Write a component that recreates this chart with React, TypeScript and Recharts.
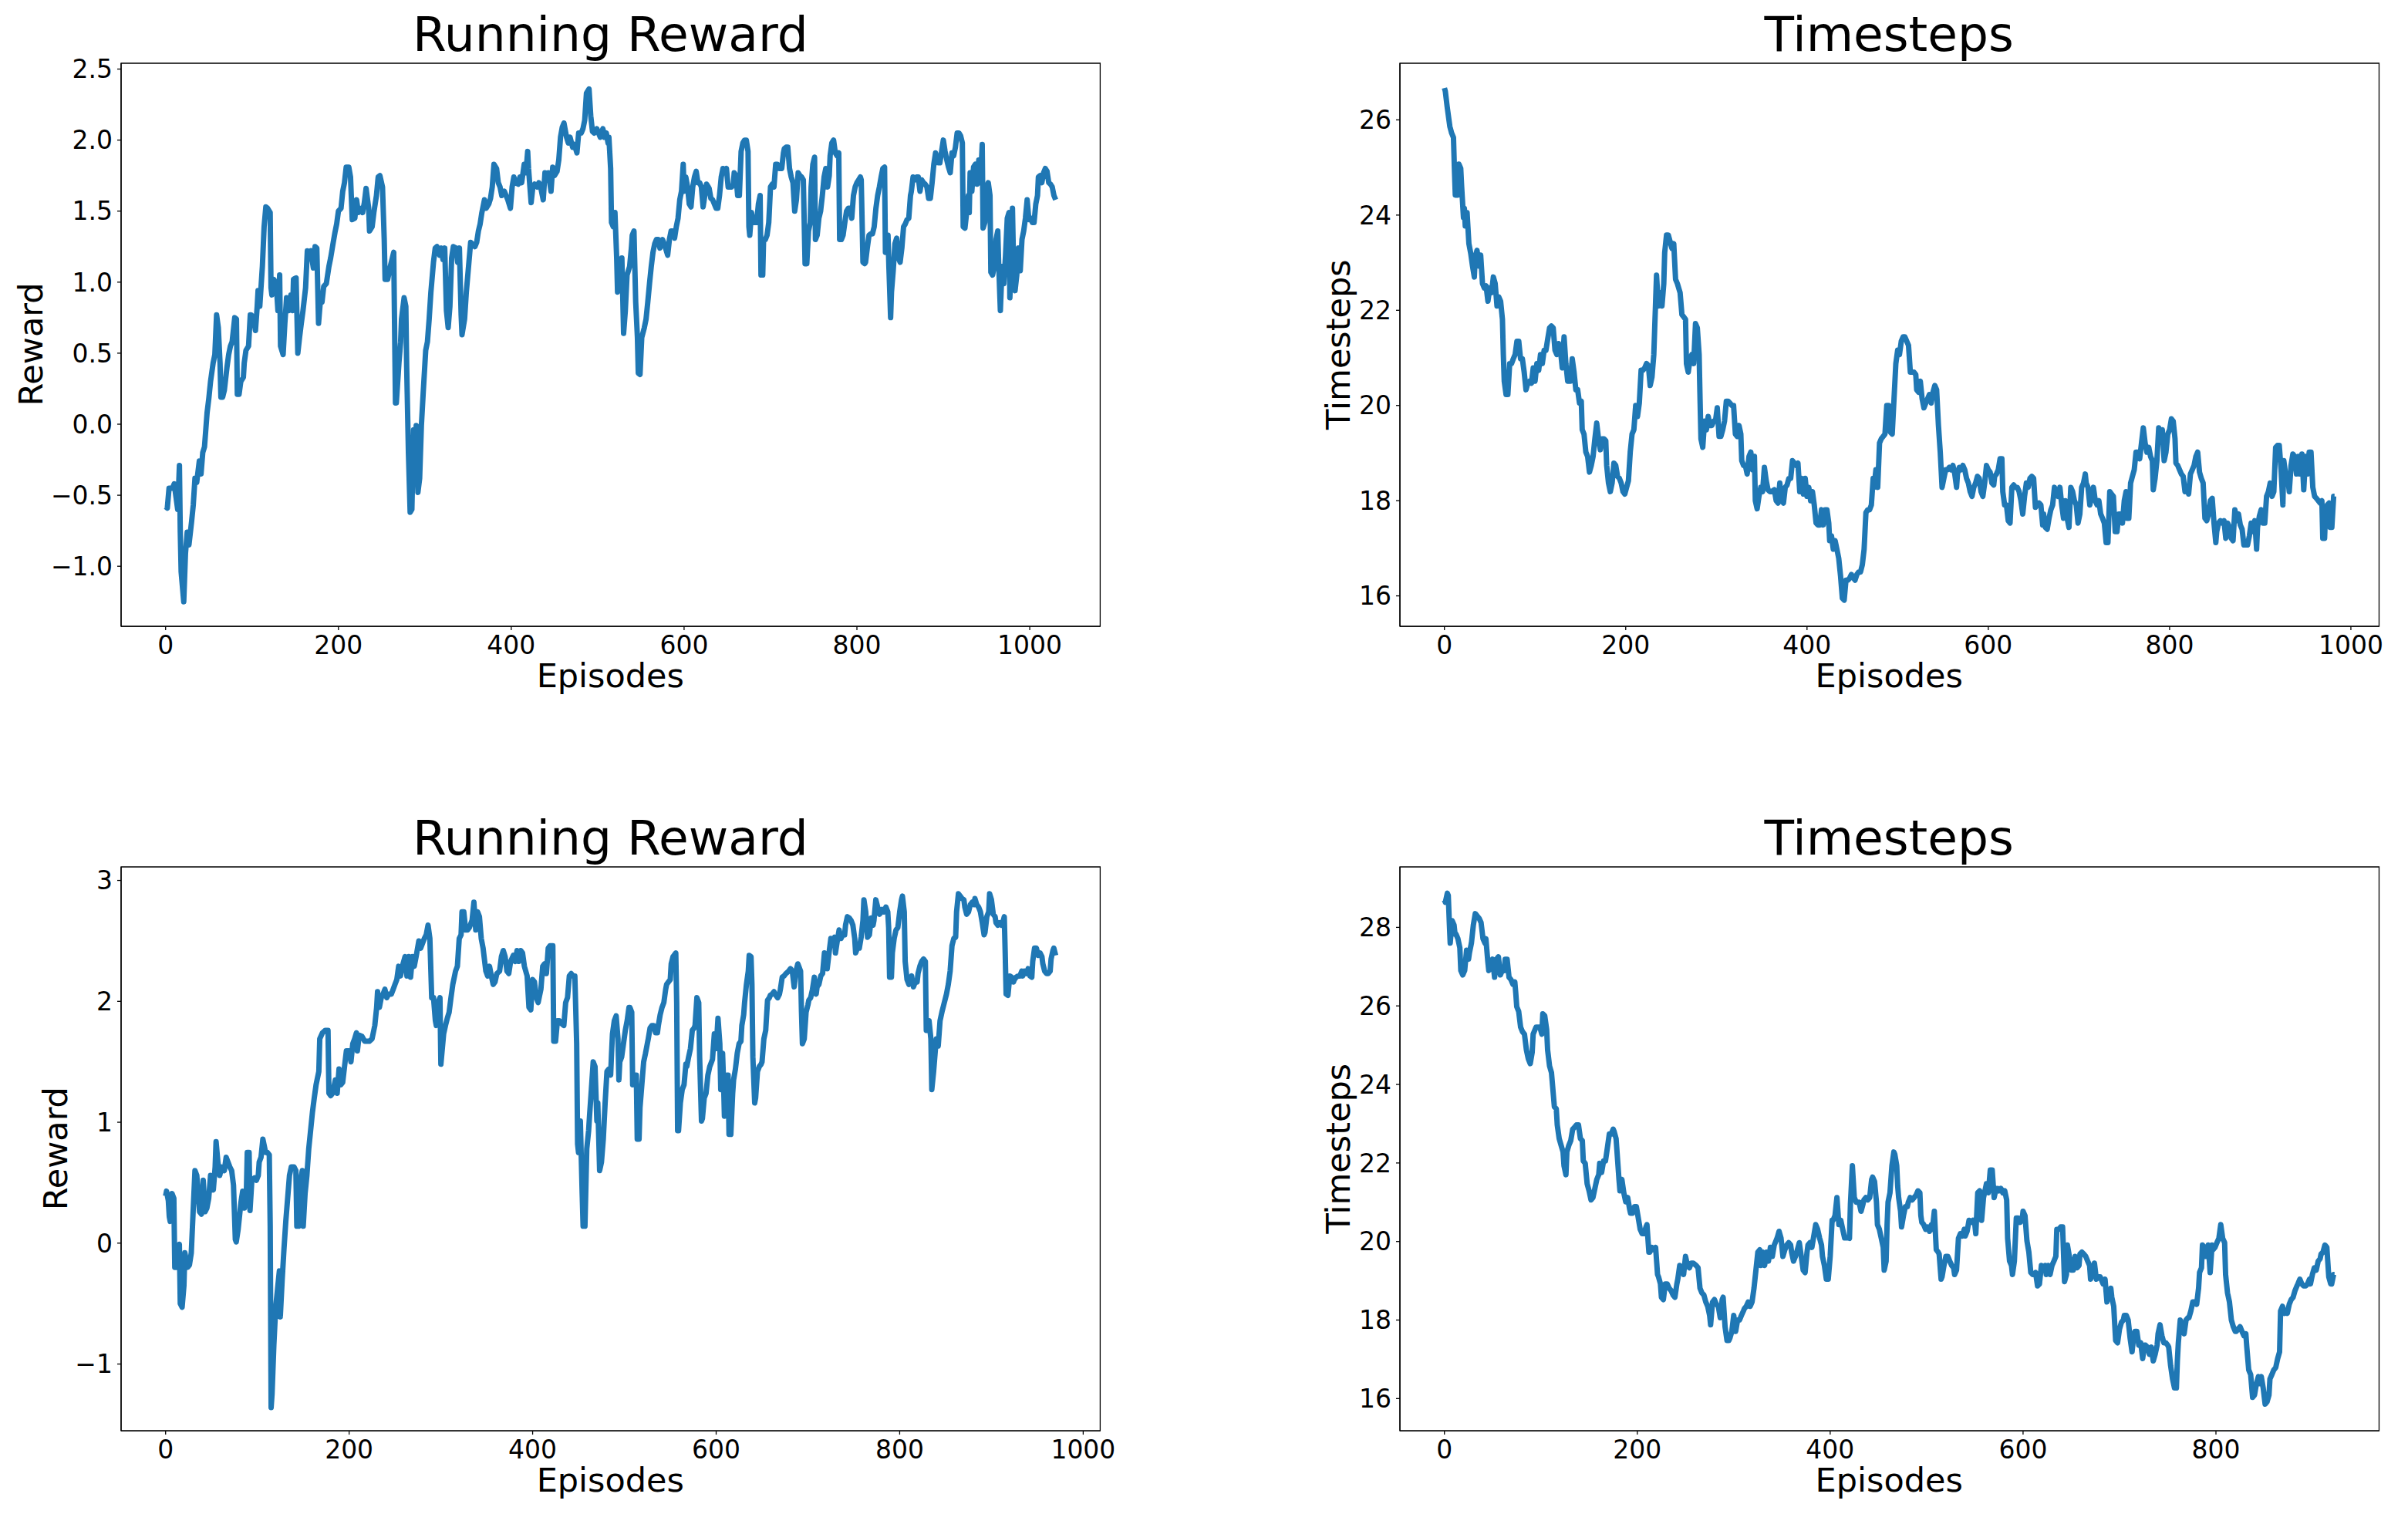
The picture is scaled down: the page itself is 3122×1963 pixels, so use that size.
import React from 'react';
import { LineChart, Line, XAxis, YAxis, ReferenceArea } from 'recharts';

const FONT = '"DejaVu Sans", sans-serif';
const BLUE = '#1f77b4';

// [episode, running reward] — first run
const topRewardPoints: [number, number][] = [
[0,-0.58],[2,-0.59],[4,-0.45],[8,-0.45],[10,-0.42],[12,-0.51],[14,-0.60],[16,-0.29],[17,-0.76],[18,-1.04],[21,-1.25],[23,-0.91],[25,-0.76],[27,-0.85],[30,-0.69],[32,-0.57],[34,-0.38],[36,-0.41],[39,-0.26],[41,-0.35],[43,-0.20],[45,-0.16],[48,0.08],[50,0.18],[52,0.30],[55,0.43],[57,0.49],[59,0.77],[61,0.68],[63,0.43],[64,0.19],[66,0.19],[68,0.24],[71,0.40],[73,0.49],[75,0.55],[77,0.58],[80,0.75],[82,0.74],[83,0.21],[85,0.21],[87,0.30],[90,0.33],[91,0.43],[93,0.52],[96,0.55],[98,0.77],[99,0.77],
[102,0.74],[104,0.66],[106,0.83],[107,0.94],[109,0.83],[112,1.11],[114,1.39],[116,1.53],[118,1.52],[121,1.49],[122,0.96],[123,0.91],[125,1.02],[128,0.99],[130,0.80],[132,1.05],[133,0.55],[136,0.49],[138,0.71],[140,0.89],[143,0.80],[145,0.91],[147,0.80],[148,1.02],[151,1.03],[153,0.50],[155,0.61],[157,0.71],[159,0.80],[162,0.96],[164,1.22],[166,1.21],[168,1.22],[171,1.10],[173,1.25],[175,1.24],[177,0.71],[179,0.86],[181,0.86],[183,0.97],[186,0.99],[189,1.11],[191,1.17],[194,1.28],[196,1.35],[198,1.41],
[200,1.50],[203,1.52],[205,1.64],[207,1.70],[209,1.81],[212,1.81],[214,1.74],[216,1.44],[219,1.45],[221,1.58],[223,1.49],[225,1.52],[228,1.49],[230,1.56],[232,1.66],[235,1.52],[236,1.36],[239,1.39],[241,1.49],[244,1.61],[246,1.74],[248,1.75],[251,1.67],[253,1.30],[254,1.02],[257,1.02],[260,1.11],[262,1.16],[264,1.21],[266,0.15],[267,0.15],[270,0.43],[272,0.58],[273,0.74],[276,0.89],[278,0.83],[279,0.40],[281,-0.20],[283,-0.62],[285,-0.60],[287,-0.04],[288,-0.32],[290,-0.01],[292,-0.48],[294,-0.38],[296,-0.01],[298,0.21],
[301,0.52],[303,0.58],[305,0.74],[307,0.93],[310,1.14],[312,1.24],[314,1.25],[317,1.19],[319,1.24],[321,1.16],[323,1.24],[325,0.80],[327,0.68],[329,0.83],[331,1.17],[333,1.25],[336,1.24],[338,1.14],[340,1.24],[342,0.77],[343,0.63],[346,0.74],[348,0.93],[351,1.14],[353,1.28],[355,1.27],[358,1.25],[360,1.28],[362,1.36],[364,1.41],[366,1.49],[369,1.58],[371,1.52],[374,1.55],[376,1.59],[378,1.67],[380,1.83],[383,1.80],[385,1.70],[387,1.67],[389,1.61],[392,1.64],[394,1.61],[396,1.58],[399,1.52],
[401,1.67],[403,1.74],[405,1.70],[408,1.69],[410,1.74],[412,1.70],[415,1.83],[417,1.77],[419,1.92],[420,1.80],[423,1.56],[425,1.67],[427,1.69],[430,1.67],[432,1.70],[434,1.67],[437,1.58],[439,1.77],[441,1.74],[443,1.77],[446,1.64],[448,1.81],[450,1.75],[453,1.78],[455,1.86],[457,2.02],[459,2.09],[461,2.12],[464,2.02],[466,1.98],[468,2.02],[471,1.95],[473,1.97],[476,1.91],[478,2.05],[481,2.05],[483,2.08],[485,2.14],[487,2.33],[490,2.36],[492,2.17],[494,2.06],[496,2.05],[499,2.08],
[501,2.05],[503,2.02],[506,2.08],[508,2.02],[510,2.05],[512,1.98],[513,2.02],[515,1.80],[516,1.42],[518,1.39],[520,1.49],[522,1.17],[523,0.93],[526,0.99],[528,1.17],[530,0.64],[532,0.80],[534,1.05],[537,1.11],[539,1.24],[540,1.33],[542,1.36],[544,0.86],[546,0.61],[547,0.36],[549,0.35],[551,0.61],[554,0.68],[556,0.74],[558,0.86],[560,0.99],[562,1.11],[564,1.21],[566,1.27],[568,1.30],[570,1.30],[572,1.24],[575,1.30],[577,1.27],[581,1.19],[583,1.30],[585,1.36],[587,1.36],[589,1.31],[591,1.39],[593,1.45],[595,1.58],[597,1.64],[599,1.83],
[600,1.64],[602,1.74],[604,1.67],[606,1.55],[608,1.53],[610,1.67],[612,1.74],[614,1.78],[616,1.70],[618,1.70],[620,1.67],[622,1.53],[624,1.61],[626,1.69],[628,1.67],[629,1.66],[631,1.59],[633,1.58],[635,1.55],[637,1.52],[639,1.52],[641,1.61],[643,1.74],[645,1.80],[647,1.78],[649,1.80],[651,1.67],[653,1.67],[655,1.67],[657,1.69],[658,1.77],[660,1.75],[662,1.61],[664,1.61],[666,1.92],[668,1.98],[670,2.00],[672,2.00],[674,1.92],[675,1.39],[676,1.33],[678,1.49],[680,1.42],[682,1.42],[684,1.42],[686,1.55],[688,1.61],[689,1.05],[691,1.05],[692,1.30],[694,1.30],[696,1.33],[698,1.42],
[700,1.67],[702,1.69],[704,1.67],[706,1.83],[708,1.83],[710,1.80],[713,1.80],[715,1.91],[716,1.94],[718,1.95],[720,1.95],[722,1.80],[724,1.74],[726,1.70],[728,1.50],[730,1.58],[732,1.77],[734,1.75],[736,1.74],[738,1.72],[740,1.13],[742,1.13],[744,1.36],[746,1.42],[747,1.67],[749,1.83],[751,1.88],[752,1.30],[754,1.33],[756,1.45],[758,1.50],[760,1.61],[762,1.74],[764,1.80],[766,1.67],[768,1.75],[769,1.89],[771,1.98],[773,2.00],[775,1.91],[777,1.89],[779,1.91],[780,1.30],[782,1.30],[784,1.33],[786,1.42],[788,1.50],[790,1.52],[792,1.52],[794,1.45],[796,1.61],[798,1.67],
[800,1.70],[802,1.72],[804,1.74],[805,1.72],[807,1.14],[809,1.13],[810,1.14],[812,1.24],[814,1.33],[816,1.34],[818,1.34],[820,1.39],[822,1.52],[824,1.61],[826,1.67],[828,1.74],[830,1.80],[832,1.81],[833,1.21],[834,1.21],[836,1.33],[837,1.11],[839,0.75],[840,0.93],[842,1.08],[844,1.27],[846,1.31],[848,1.17],[850,1.14],[852,1.24],[854,1.39],[856,1.41],[858,1.44],[860,1.45],[862,1.61],[863,1.64],[865,1.74],[867,1.72],[869,1.74],[871,1.74],[873,1.64],[875,1.72],[877,1.70],[879,1.69],[881,1.67],[883,1.59],[885,1.59],[887,1.70],[889,1.83],[891,1.91],[892,1.89],[894,1.84],[896,1.84],[898,1.92],
[900,2.00],[902,1.92],[904,1.86],[906,1.81],[908,1.77],[910,1.91],[912,1.89],[914,1.95],[916,2.05],[918,2.05],[920,2.03],[922,1.98],[923,1.39],[925,1.38],[927,1.49],[929,1.61],[930,1.49],[931,1.77],[933,1.64],[935,1.81],[937,1.83],[939,1.69],[941,1.86],[943,1.70],[945,1.97],[946,1.38],[948,1.42],[950,1.67],[952,1.70],[954,1.61],[955,1.07],[957,1.05],[959,1.11],[961,1.30],[963,1.36],[964,1.14],[966,0.80],[968,1.11],[970,0.99],[972,1.19],[974,1.45],[976,1.49],[977,0.89],[978,1.05],[980,1.52],[981,1.21],[983,0.94],[985,1.05],[987,1.24],[989,1.08],[991,1.30],[993,1.36],[995,1.45],[997,1.58],[999,1.44],
[1001,1.45],[1003,1.42],[1005,1.42],[1007,1.55],[1009,1.61],[1010,1.74],[1012,1.75],[1014,1.70],[1016,1.77],[1018,1.80],[1020,1.78],[1022,1.70],[1024,1.69],[1026,1.67],[1028,1.61],[1030,1.58]
];

// [episode, timesteps] — first run
const topTimestepPoints: [number, number][] = [
[0,26.67],[1,26.60],[3,26.28],[5,26.00],[6,25.86],[8,25.72],[10,25.63],[11,24.98],[12,24.42],[15,24.42],[16,25.07],[18,24.98],[19,24.60],[21,23.95],[22,24.14],[23,23.77],[25,24.05],[27,23.40],[29,23.20],[31,22.93],[33,22.70],[34,23.12],[36,23.26],[38,22.93],[40,23.16],[42,22.56],[44,22.47],[46,22.51],[48,22.19],[50,22.47],[52,22.37],[54,22.70],[56,22.56],[58,22.09],[60,22.28],[62,22.19],[64,21.81],[65,21.07],[66,20.51],[68,20.23],[70,20.23],[72,20.88],[74,20.88],[76,20.98],[78,21.07],[80,21.35],[82,21.35],[84,20.98],[86,20.98],[88,20.70],[90,20.33],[92,20.47],[94,20.51],[96,20.47],[98,20.79],
[100,20.51],[102,20.88],[104,20.74],[106,21.07],[108,20.88],[110,21.16],[112,21.16],[114,21.40],[116,21.63],[118,21.67],[120,21.63],[122,21.16],[124,21.07],[126,21.30],[128,21.16],[130,20.79],[132,21.44],[134,20.88],[136,20.51],[139,20.51],[141,20.98],[143,20.70],[145,20.33],[147,20.33],[149,20.05],[151,20.09],[152,19.49],[154,19.40],[156,19.02],[158,18.93],[160,18.60],[162,18.74],[164,18.93],[166,19.30],[168,19.63],[170,19.30],[172,19.07],[174,19.30],[176,19.30],[178,19.26],[179,18.74],[181,18.37],[183,18.19],[185,18.37],[187,18.79],[189,18.74],[191,18.51],[193,18.47],[195,18.37],[197,18.19],[199,18.14],
[201,18.28],[203,18.42],[205,19.02],[207,19.40],[209,19.49],[211,20.00],[213,19.77],[215,20.05],[217,20.74],[219,20.74],[221,20.79],[223,20.88],[225,20.84],[227,20.42],[229,20.60],[231,21.07],[232,21.63],[233,22.19],[234,22.74],[236,22.09],[238,22.37],[240,22.09],[242,22.56],[243,23.21],[245,23.58],[247,23.58],[249,23.44],[251,23.30],[253,23.40],[255,22.65],[257,22.56],[260,22.37],[262,21.91],[264,21.86],[266,21.81],[267,20.88],[269,20.70],[271,20.98],[273,21.07],[275,20.88],[277,21.72],[279,21.63],[281,21.07],[282,20.14],[283,19.30],[285,19.12],[287,19.67],[289,19.49],[291,19.77],[293,19.58],[295,19.58],[297,19.67],[299,19.67],
[301,19.95],[303,19.35],[305,19.35],[307,19.49],[309,19.67],[311,20.09],[313,20.09],[315,20.05],[317,20.00],[319,20.00],[321,19.40],[323,19.35],[325,19.58],[327,19.40],[328,18.84],[330,18.74],[332,18.74],[334,18.56],[336,18.93],[338,19.02],[340,18.65],[342,18.93],[343,18.00],[345,17.83],[347,18.09],[349,18.28],[351,18.19],[353,18.70],[355,18.42],[357,18.23],[359,18.19],[361,18.19],[364,18.23],[366,18.00],[368,17.95],[370,18.37],[372,18.00],[374,17.95],[376,18.28],[378,18.33],[380,18.47],[382,18.47],[384,18.84],[386,18.79],[388,18.74],[390,18.79],[392,18.19],[394,18.47],[396,18.14],[398,18.47],
[400,18.09],[402,18.28],[404,18.00],[406,18.19],[408,17.91],[410,17.53],[412,17.49],[414,17.49],[416,17.81],[418,17.49],[420,17.81],[422,17.81],[424,17.53],[425,17.16],[427,17.26],[429,16.98],[431,17.16],[433,16.98],[435,16.79],[437,16.42],[439,15.95],[441,15.91],[443,16.33],[445,16.33],[447,16.37],[449,16.45],[451,16.38],[453,16.33],[455,16.45],[457,16.50],[459,16.50],[461,16.65],[463,16.98],[465,17.75],[467,17.81],[469,17.81],[471,17.91],[473,18.47],[474,18.28],[476,18.65],[478,18.28],[480,19.21],[482,19.30],[484,19.35],[486,19.40],[488,20.00],[490,20.00],[492,19.44],[494,19.40],[496,20.14],[498,20.88],
[500,21.16],[502,21.07],[504,21.35],[506,21.44],[508,21.44],[510,21.35],[512,21.26],[514,20.70],[516,20.70],[518,20.70],[520,20.65],[521,20.33],[523,20.28],[525,20.51],[527,20.14],[529,19.95],[531,20.05],[533,20.14],[535,20.23],[537,20.05],[539,20.28],[541,20.42],[543,20.33],[545,19.58],[547,19.02],[549,18.28],[551,18.47],[553,18.65],[555,18.65],[557,18.70],[559,18.65],[561,18.74],[563,18.56],[565,18.28],[566,18.56],[568,18.70],[570,18.65],[572,18.74],[574,18.65],[576,18.47],[578,18.37],[580,18.19],[582,18.09],[584,18.28],[586,18.37],[588,18.51],[590,18.47],[592,18.19],[594,18.09],[596,18.37],[598,18.74],
[600,18.65],[602,18.60],[604,18.37],[606,18.33],[607,18.51],[609,18.56],[611,18.65],[613,18.88],[615,18.88],[616,18.19],[618,17.91],[620,17.91],[622,17.58],[624,17.53],[626,18.28],[628,18.33],[630,18.28],[632,18.28],[634,18.19],[636,18.00],[638,17.72],[640,18.09],[642,18.37],[644,18.28],[646,18.47],[648,18.51],[650,18.47],[652,17.86],[654,17.91],[656,17.95],[658,17.91],[660,17.49],[661,17.72],[663,17.44],[665,17.40],[667,17.63],[669,17.81],[671,17.91],[673,18.28],[675,18.14],[677,18.09],[679,18.28],[681,17.91],[683,17.63],[685,18.00],[687,17.63],[689,17.44],[691,18.28],[693,18.19],[695,18.00],[697,17.91],[699,17.53],
[701,17.72],[703,18.28],[705,18.37],[707,18.56],[708,18.37],[710,18.28],[712,17.91],[714,18.09],[716,18.28],[718,18.00],[720,17.91],[722,18.00],[724,17.72],[726,17.63],[728,17.53],[730,17.12],[732,17.12],[734,18.19],[736,18.14],[738,18.09],[740,17.35],[742,17.35],[744,17.72],[746,17.72],[748,17.53],[750,18.00],[752,18.19],[753,17.63],[755,17.63],[757,18.37],[759,18.51],[761,18.65],[763,19.02],[765,19.02],[767,18.88],[769,19.21],[771,19.53],[773,19.21],[775,19.02],[777,19.12],[779,18.93],[781,18.84],[782,18.23],[784,18.47],[786,18.84],[788,19.53],[790,19.30],[792,19.49],[794,18.84],[796,19.02],[798,19.40],
[800,19.49],[802,19.72],[804,19.67],[806,19.30],[807,18.79],[809,18.74],[811,18.65],[813,18.56],[815,18.51],[817,18.19],[819,18.28],[821,18.14],[823,18.56],[825,18.65],[827,18.74],[829,18.93],[831,19.02],[833,18.60],[835,18.47],[837,18.37],[839,17.63],[841,17.58],[843,17.72],[845,18.00],[847,18.05],[849,17.53],[851,17.12],[852,17.35],[854,17.53],[856,17.58],[858,17.53],[860,17.58],[862,17.21],[864,17.53],[866,17.44],[868,17.21],[870,17.16],[872,17.81],[874,17.58],[876,17.72],[878,17.49],[880,17.40],[882,17.07],[884,17.07],[886,17.07],[888,17.26],[890,17.53],[892,17.35],[894,17.58],[896,16.98],[897,17.44],[899,17.67],
[901,17.81],[903,17.53],[905,17.53],[907,18.09],[909,18.19],[911,18.37],[913,18.09],[915,18.19],[917,19.12],[919,19.16],[921,19.16],[923,18.65],[925,17.91],[926,18.84],[928,18.56],[930,18.56],[932,18.19],[934,18.74],[936,18.98],[938,18.93],[940,18.56],[942,18.93],[944,18.56],[946,18.98],[948,18.23],[950,18.93],[952,18.56],[954,19.02],[956,19.02],[958,18.28],[960,18.09],[962,18.05],[964,18.00],[966,17.95],[968,18.00],[969,17.21],[971,17.21],[972,17.72],[974,17.91],[976,17.95],[977,17.44],[979,17.44],[981,18.09],[982,18.09]
];

// [episode, running reward] — second run
const bottomRewardPoints: [number, number][] = [
[0,0.39],[1,0.43],[3,0.35],[4,0.22],[5,0.18],[7,0.41],[9,0.37],[10,-0.20],[12,-0.20],[14,-0.03],[15,-0.01],[16,-0.50],[18,-0.53],[20,-0.35],[21,-0.08],[22,-0.12],[24,-0.20],[26,-0.18],[28,-0.08],[30,0.26],[32,0.60],[34,0.56],[37,0.26],[39,0.24],[41,0.52],[43,0.26],[45,0.29],[47,0.37],[49,0.56],[52,0.44],[54,0.63],[55,0.84],[57,0.67],[59,0.56],[61,0.63],[64,0.60],[66,0.71],[68,0.67],[70,0.63],[72,0.60],[74,0.48],[76,0.03],[77,0.01],[79,0.11],[82,0.33],[84,0.43],[86,0.29],[88,0.41],[89,0.75],[91,0.75],[92,0.27],[94,0.52],[97,0.54],[99,0.52],
[101,0.56],[102,0.67],[104,0.71],[106,0.86],[109,0.75],[111,0.75],[113,0.73],[114,0.14],[115,-1.36],[116,-1.25],[118,-0.84],[120,-0.53],[122,-0.38],[124,-0.23],[125,-0.61],[127,-0.31],[129,-0.05],[131,0.18],[133,0.37],[135,0.56],[137,0.63],[140,0.63],[142,0.60],[143,0.14],[145,0.14],[147,0.52],[149,0.60],[150,0.14],[152,0.41],[154,0.56],[156,0.78],[158,0.93],[160,1.08],[162,1.20],[164,1.31],[167,1.42],[168,1.69],[171,1.74],[174,1.76],[177,1.76],[178,1.24],[180,1.22],[182,1.24],[185,1.35],[187,1.24],[189,1.44],[191,1.31],[193,1.33],[195,1.46],[197,1.59],
[200,1.59],[202,1.50],[204,1.65],[206,1.69],[208,1.74],[209,1.59],[211,1.72],[214,1.71],[217,1.67],[220,1.67],[222,1.67],[225,1.69],[228,1.80],[230,1.95],[231,2.08],[233,1.95],[235,2.03],[237,2.06],[239,2.10],[241,2.03],[243,2.06],[246,2.06],[248,2.10],[250,2.14],[252,2.18],[254,2.29],[256,2.21],[258,2.29],[261,2.37],[263,2.21],[265,2.37],[267,2.20],[269,2.37],[271,2.29],[273,2.37],[276,2.50],[278,2.44],[280,2.48],[282,2.52],[284,2.55],[286,2.63],[288,2.52],[290,2.03],[292,2.03],[294,1.84],[295,1.80],[297,1.99],[299,2.03],
[300,1.48],[303,1.73],[305,1.80],[307,1.86],[309,1.91],[311,2.03],[313,2.14],[316,2.25],[318,2.29],[320,2.52],[322,2.55],[323,2.74],[325,2.74],[327,2.59],[329,2.59],[331,2.61],[334,2.67],[336,2.82],[338,2.59],[340,2.74],[342,2.70],[344,2.52],[346,2.44],[349,2.25],[351,2.21],[353,2.29],[355,2.21],[357,2.14],[359,2.16],[361,2.23],[364,2.25],[366,2.37],[368,2.42],[370,2.37],[372,2.25],[374,2.23],[376,2.33],[379,2.38],[381,2.33],[383,2.42],[385,2.33],[387,2.42],[389,2.40],[391,2.29],[394,2.21],[396,1.95],[398,1.93],
[400,2.18],[402,2.16],[404,2.03],[406,1.99],[409,2.10],[411,2.29],[413,2.31],[415,2.23],[417,2.44],[419,2.46],[422,2.46],[423,1.67],[425,1.67],[427,1.84],[429,1.84],[431,1.82],[434,1.80],[436,1.99],[438,2.03],[440,2.21],[442,2.23],[444,2.21],[446,2.21],[448,1.65],[449,0.82],[450,0.75],[452,1.01],[454,0.41],[455,0.14],[457,0.14],[459,0.78],[461,0.93],[462,1.05],[464,1.27],[466,1.50],[468,1.46],[470,1.01],[471,1.16],[473,0.60],[475,0.67],[477,0.86],[479,1.16],[481,1.42],[483,1.44],[485,1.39],[486,1.57],[487,1.73],[489,1.84],[491,1.88],[493,1.69],[494,1.35],[495,1.50],[497,1.54],[499,1.65],
[501,1.76],[503,1.84],[505,1.95],[506,1.95],[508,1.91],[509,1.31],[511,1.39],[513,1.39],[514,0.86],[516,0.86],[517,1.12],[519,1.31],[521,1.50],[523,1.57],[525,1.65],[526,1.69],[528,1.78],[530,1.80],[532,1.80],[534,1.74],[536,1.74],[537,1.80],[539,1.89],[541,1.95],[543,1.99],[545,2.10],[546,2.14],[548,2.16],[550,2.18],[551,2.31],[553,2.37],[554,2.38],[556,2.40],[557,1.99],[558,0.93],[559,0.93],[561,1.16],[563,1.27],[565,1.31],[567,1.48],[568,1.46],[570,1.54],[572,1.61],[574,1.76],[576,1.78],[577,1.80],[579,2.03],[581,1.99],[582,1.54],[584,1.01],[585,1.03],[587,1.20],[589,1.24],[591,1.39],[593,1.46],[595,1.50],[596,1.52],[598,1.73],
[600,1.61],[602,1.86],[604,1.65],[605,1.27],[607,1.57],[608,1.35],[609,1.05],[611,1.16],[612,1.39],[613,1.39],[614,0.90],[616,0.90],[618,1.24],[619,1.35],[621,1.44],[623,1.57],[625,1.65],[627,1.67],[628,1.80],[630,1.89],[631,1.99],[633,2.14],[635,2.25],[636,2.38],[638,2.37],[639,2.14],[640,1.54],[642,1.16],[643,1.20],[645,1.42],[647,1.46],[649,1.48],[650,1.50],[652,1.69],[654,1.76],[656,2.01],[658,2.03],[659,2.05],[661,2.06],[663,2.08],[665,2.05],[667,2.03],[669,2.06],[670,2.10],[672,2.20],[674,2.21],[676,2.23],[679,2.25],[681,2.27],[683,2.25],[685,2.12],[687,2.25],[689,2.31],[690,2.29],[692,2.25],[693,1.91],[694,1.65],[696,1.69],[698,1.91],
[700,1.97],[701,2.01],[703,2.03],[705,2.10],[707,2.20],[709,2.06],[710,2.12],[712,2.14],[714,2.21],[716,2.23],[718,2.40],[720,2.37],[721,2.27],[723,2.40],[725,2.52],[727,2.50],[729,2.53],[730,2.40],[732,2.50],[734,2.59],[736,2.52],[738,2.55],[740,2.55],[741,2.63],[743,2.70],[745,2.69],[747,2.67],[749,2.63],[751,2.52],[752,2.40],[754,2.44],[756,2.44],[758,2.53],[760,2.67],[761,2.84],[763,2.74],[765,2.53],[767,2.55],[769,2.69],[771,2.63],[772,2.67],[774,2.84],[776,2.78],[778,2.72],[780,2.74],[781,2.76],[783,2.74],[785,2.78],[787,2.74],[788,2.61],[789,2.20],[791,2.20],[792,2.40],[794,2.52],[796,2.59],[798,2.61],
[800,2.74],[802,2.84],[803,2.87],[805,2.74],[806,2.33],[808,2.18],[810,2.14],[811,2.16],[813,2.21],[815,2.12],[817,2.16],[819,2.16],[820,2.23],[822,2.29],[824,2.33],[826,2.35],[828,2.33],[829,1.76],[831,1.76],[832,1.84],[834,1.69],[835,1.27],[837,1.42],[839,1.61],[840,1.69],[842,1.63],[844,1.84],[846,1.91],[848,1.97],[850,2.03],[851,2.06],[853,2.14],[855,2.25],[857,2.46],[859,2.52],[861,2.53],[862,2.74],[864,2.89],[866,2.87],[868,2.85],[870,2.84],[871,2.78],[873,2.72],[875,2.74],[877,2.80],[879,2.82],[881,2.80],[882,2.85],[884,2.80],[886,2.78],[888,2.74],[890,2.65],[892,2.55],[893,2.57],[895,2.70],[897,2.74],[898,2.89],
[900,2.84],[902,2.72],[904,2.70],[905,2.65],[907,2.63],[909,2.65],[911,2.63],[913,2.67],[914,2.70],[915,2.40],[916,2.06],[918,2.05],[920,2.21],[922,2.20],[924,2.16],[925,2.18],[927,2.20],[929,2.21],[931,2.21],[933,2.25],[934,2.21],[936,2.25],[938,2.23],[940,2.27],[942,2.21],[944,2.20],[945,2.33],[947,2.44],[949,2.44],[951,2.38],[953,2.40],[955,2.37],[956,2.31],[958,2.25],[960,2.23],[962,2.23],[964,2.25],[965,2.35],[967,2.42],[968,2.44],[970,2.38]
];

// [episode, timesteps] — second run
const bottomTimestepPoints: [number, number][] = [
[0,28.70],[1,28.64],[3,28.87],[4,28.81],[5,28.17],[6,27.60],[8,28.17],[10,28.06],[11,27.83],[12,27.83],[14,27.71],[16,27.48],[17,26.90],[19,26.79],[21,26.90],[23,27.42],[25,27.19],[26,27.36],[28,27.60],[30,28.06],[32,28.35],[34,28.29],[36,28.23],[38,28.12],[40,27.71],[42,27.60],[43,27.71],[45,27.13],[46,26.90],[48,26.96],[50,27.19],[52,26.73],[54,27.19],[56,27.25],[58,26.79],[60,26.90],[62,26.90],[63,27.19],[65,27.19],[67,26.73],[69,26.67],[71,26.55],[73,26.61],[74,26.32],[75,25.98],[77,25.86],[79,25.46],[81,25.34],[83,25.28],[85,24.88],[87,24.65],[89,24.53],[91,24.82],[92,25.28],[94,25.40],[95,25.46],[97,25.46],[99,25.46],
[101,25.28],[102,25.80],[104,25.75],[106,25.40],[107,24.88],[109,24.47],[111,24.30],[112,24.01],[114,23.43],[116,23.38],[117,22.97],[119,22.62],[121,22.45],[123,22.28],[124,21.93],[126,21.70],[127,22.28],[129,22.45],[131,22.57],[133,22.86],[135,22.91],[137,22.97],[139,22.97],[141,22.62],[143,22.57],[144,22.05],[146,21.99],[148,21.47],[150,21.29],[152,21.06],[154,21.12],[156,21.35],[158,21.58],[160,21.70],[161,21.99],[163,21.76],[165,22.05],[167,22.05],[169,22.39],[171,22.74],[173,22.74],[175,22.86],[176,22.80],[178,22.62],[180,21.93],[181,21.58],[182,21.29],[184,21.58],[186,21.24],[188,21.01],[190,21.12],[192,20.83],[193,20.72],[195,20.72],[197,20.89],[199,20.89],
[201,20.60],[203,20.31],[205,20.20],[207,20.20],[209,20.37],[210,20.43],[212,19.73],[213,19.73],[215,19.85],[217,19.79],[219,19.85],[221,19.16],[222,19.10],[224,18.92],[225,18.58],[227,18.52],[229,18.92],[231,18.92],[233,18.81],[235,18.75],[237,18.64],[239,18.58],[241,18.92],[242,19.04],[244,19.39],[246,19.33],[248,19.16],[250,19.62],[252,19.39],[254,19.33],[256,19.45],[258,19.45],[261,19.39],[263,19.33],[265,18.81],[267,18.69],[269,18.64],[271,18.46],[273,18.35],[275,18.12],[276,17.88],[278,18.46],[280,18.52],[282,18.40],[284,18.35],[286,18.06],[288,18.52],[289,18.58],[291,17.83],[293,17.48],[295,17.48],[296,17.54],[298,17.71],
[300,18.12],[302,17.71],[304,18.00],[306,18.00],[308,18.12],[310,18.23],[311,18.29],[313,18.35],[315,18.46],[317,18.35],[319,18.46],[321,18.81],[323,19.27],[325,19.73],[327,19.79],[328,19.39],[330,19.73],[332,19.39],[334,19.73],[336,19.50],[338,19.85],[340,19.62],[342,19.91],[343,19.97],[345,20.09],[347,20.26],[349,20.09],[351,19.62],[353,19.79],[355,19.91],[357,19.97],[359,19.91],[360,19.73],[362,19.50],[364,19.62],[366,19.79],[368,19.97],[370,19.62],[372,19.27],[374,19.21],[376,19.73],[377,19.91],[379,19.97],[381,19.85],[383,20.14],[385,20.43],[387,20.31],[389,20.09],[391,19.91],[392,19.62],[394,19.39],[396,19.04],[398,19.04],
[400,19.62],[402,20.54],[403,20.54],[405,20.66],[407,21.12],[409,20.43],[411,20.54],[413,20.31],[415,20.09],[417,20.09],[419,20.09],[420,20.08],[421,20.95],[423,21.93],[425,21.12],[427,21.00],[430,21.00],[432,20.77],[434,20.95],[435,21.06],[437,21.12],[439,21.06],[441,21.12],[443,21.58],[444,21.64],[446,21.53],[448,21.00],[449,20.43],[451,20.31],[453,20.08],[455,19.85],[456,19.27],[458,19.50],[459,20.43],[460,21.00],[462,21.24],[464,21.93],[466,22.28],[467,22.22],[469,21.93],[470,21.41],[471,21.12],[473,20.77],[474,20.37],[476,20.66],[478,20.89],[480,20.89],[481,21.00],[483,21.12],[485,21.06],[487,21.12],[489,21.18],[491,21.29],[493,21.24],[494,20.66],[495,20.49],[497,20.43],[499,20.31],
[501,20.37],[503,20.26],[505,20.43],[506,20.31],[508,20.77],[510,19.79],[512,19.73],[513,19.68],[515,19.04],[516,19.10],[518,19.39],[520,19.62],[522,19.62],[524,19.50],[526,19.39],[528,19.33],[529,19.16],[531,19.27],[533,20.08],[535,20.20],[537,20.14],[539,20.31],[540,20.14],[542,20.26],[544,20.54],[546,20.49],[548,20.54],[550,20.43],[551,20.20],[553,21.24],[555,21.29],[557,20.54],[559,21.12],[561,21.35],[562,21.47],[564,21.24],[566,21.82],[568,21.82],[570,21.12],[572,21.35],[574,21.35],[575,21.29],[577,21.35],[579,21.24],[581,21.29],[583,21.06],[584,20.08],[586,19.50],[588,19.39],[589,19.16],[591,19.50],[593,20.60],[595,20.60],[597,20.49],[599,20.54],
[600,20.77],[602,20.66],[604,20.02],[606,19.73],[608,19.21],[610,19.16],[611,19.16],[613,19.21],[615,18.87],[617,18.92],[619,19.39],[621,19.27],[623,19.39],[624,19.16],[626,19.39],[628,19.16],[630,19.39],[632,19.50],[634,19.62],[635,20.31],[637,20.31],[639,20.37],[641,20.37],[643,18.98],[645,19.16],[646,19.91],[648,19.62],[650,19.27],[652,19.27],[654,19.62],[656,19.33],[658,19.39],[659,19.68],[661,19.73],[663,19.68],[665,19.62],[667,19.50],[669,19.39],[670,19.04],[672,19.21],[674,19.45],[676,19.04],[678,19.10],[680,19.10],[681,19.04],[683,18.92],[685,19.04],[687,18.46],[689,18.69],[691,18.81],[692,18.58],[694,18.35],[696,17.48],[698,17.42],
[700,17.77],[702,17.94],[704,18.00],[705,18.12],[707,18.12],[709,18.00],[711,17.54],[713,17.19],[715,17.65],[716,17.71],[718,17.71],[720,17.36],[722,17.42],[724,17.02],[726,17.36],[727,17.36],[729,17.31],[731,17.13],[733,17.31],[735,16.96],[737,17.13],[739,17.36],[740,17.65],[742,17.88],[744,17.60],[746,17.42],[748,17.42],[750,17.36],[751,17.31],[753,16.84],[755,16.50],[757,16.27],[759,16.27],[760,16.96],[761,17.42],[763,18.00],[765,17.88],[767,17.65],[769,18.00],[771,18.06],[772,18.06],[774,18.23],[776,18.46],[778,18.46],[780,18.40],[782,18.81],[783,19.21],[785,19.33],[786,19.91],[788,19.85],[790,19.62],[792,19.91],[794,19.21],[796,19.91],[797,19.79],[799,19.85],
[801,19.97],[803,20.08],[805,20.43],[807,20.08],[809,19.97],[810,19.16],[812,18.69],[814,18.46],[816,18.00],[818,17.83],[820,17.71],[821,17.71],[823,17.77],[825,17.83],[827,17.71],[829,17.60],[831,17.65],[832,17.31],[834,16.73],[836,16.61],[838,16.03],[840,16.09],[842,16.38],[844,16.56],[845,16.38],[847,16.56],[849,16.27],[851,15.86],[853,15.92],[855,16.09],[856,16.50],[858,16.61],[860,16.73],[862,16.79],[864,17.02],[866,17.19],[867,18.23],[869,18.35],[871,18.17],[873,18.23],[874,18.17],[876,18.40],[878,18.52],[880,18.58],[882,18.75],[884,18.87],[885,18.92],[887,19.04],[889,18.92],[891,18.87],[893,18.87],[895,18.92],[897,19.04],[898,18.92],
[900,19.16],[902,19.33],[904,19.27],[906,19.50],[908,19.56],[909,19.68],[911,19.73],[913,19.91],[915,19.85],[917,19.10],[919,18.92],[920,18.92],[922,19.16],[923,19.16]
];

const episodeTicksFull = [0, 200, 400, 600, 800, 1000];
const episodeTicksShort = [0, 200, 400, 600, 800];
const topRewardTicks = [-1, -0.5, 0, 0.5, 1, 1.5, 2, 2.5];
const topTimestepTicks = [16, 18, 20, 22, 24, 26];
const bottomRewardTicks = [-1, 0, 1, 2, 3];
const bottomTimestepTicks = [16, 18, 20, 22, 24, 26, 28];

const rewardTitle = 'Running Reward';
const timestepTitle = 'Timesteps';
const episodesLabel = 'Episodes';
const rewardLabel = 'Reward';
const timestepLabel = 'Timesteps';

const minus = (v: number, digits: number) =>
  (v < 0 ? '\u2212' : '') + Math.abs(v).toFixed(digits);

type PanelProps = {
  left: number; top: number; width: number; height: number;
  points: [number, number][];
  yDomain: [number, number];
  xTicks: number[];
  yTicks: number[];
  fmt: (v: number) => string;
};

const ML = 150, MT = 40, MR = 70, MB = 70;

function Panel(p: PanelProps) {
  const last = p.points[p.points.length - 1][0];
  const xDomain: [number, number] = [-0.05 * last, 1.05 * last];
  const data = p.points.map(([e, v]) => ({ episode: e, value: v }));
  const axisStyle = { stroke: '#000', strokeWidth: 1.3 };
  const tickStyle = { fill: '#000', fontSize: 33, fontFamily: FONT };
  return (
    <div style={{ position: 'absolute', left: p.left - ML, top: p.top - MT }}>
      <LineChart
        width={ML + p.width + MR}
        height={MT + p.height + MB}
        data={data}
        margin={{ top: MT, right: MR, left: 0, bottom: 0 }}
      >
        <XAxis
          dataKey="episode" type="number" domain={xDomain} ticks={p.xTicks}
          allowDataOverflow interval={0} height={MB}
          tick={tickStyle} tickLine={axisStyle} axisLine={axisStyle}
          tickSize={5} tickMargin={7}
        />
        <YAxis
          type="number" domain={p.yDomain} ticks={p.yTicks} allowDataOverflow
          interval={0} width={ML} tick={tickStyle} tickLine={axisStyle}
          axisLine={axisStyle} tickSize={5} tickMargin={6} tickFormatter={p.fmt}
        />
        <ReferenceArea
          x1={xDomain[0]} x2={xDomain[1]} y1={p.yDomain[0]} y2={p.yDomain[1]}
          fill="none" stroke="#000" strokeWidth={1.3} ifOverflow="visible"
        />
        <Line
          type="linear" dataKey="value" stroke={BLUE} strokeWidth={7}
          dot={false} activeDot={false} isAnimationActive={false}
          strokeLinejoin="round"
        />
      </LineChart>
    </div>
  );
}

const panels = [
  { key: 'tl', left: 156.6, top: 81.5, width: 1269.4, height: 730.1, points: topRewardPoints,
    yDomain: [-1.423, 2.541] as [number, number], xTicks: episodeTicksFull, yTicks: topRewardTicks,
    fmt: (v: number) => minus(v, 1), title: rewardTitle, yLabel: rewardLabel, yLabelX: 54.6 },
  { key: 'tr', left: 1814.5, top: 81.5, width: 1269.5, height: 730.1, points: topTimestepPoints,
    yDomain: [15.36, 27.19] as [number, number], xTicks: episodeTicksFull, yTicks: topTimestepTicks,
    fmt: (v: number) => minus(v, 0), title: timestepTitle, yLabel: timestepLabel, yLabelX: 1750.5 },
  { key: 'bl', left: 156.6, top: 1123.6, width: 1269.4, height: 731.1, points: bottomRewardPoints,
    yDomain: [-1.552, 3.112] as [number, number], xTicks: episodeTicksFull, yTicks: bottomRewardTicks,
    fmt: (v: number) => minus(v, 0), title: rewardTitle, yLabel: rewardLabel, yLabelX: 86.7 },
  { key: 'br', left: 1814.5, top: 1123.6, width: 1269.5, height: 731.1, points: bottomTimestepPoints,
    yDomain: [15.18, 29.54] as [number, number], xTicks: episodeTicksShort, yTicks: bottomTimestepTicks,
    fmt: (v: number) => minus(v, 0), title: timestepTitle, yLabel: timestepLabel, yLabelX: 1750.5 },
];

export default function App() {
  return (
    <div style={{ position: 'absolute', left: 0, top: 0, width: 3122, height: 1963, background: '#fff', overflow: 'hidden' }}>
      {panels.map((p) => (
        <Panel key={p.key} left={p.left} top={p.top} width={p.width} height={p.height}
          points={p.points} yDomain={p.yDomain} xTicks={p.xTicks} yTicks={p.yTicks} fmt={p.fmt} />
      ))}
      <svg width={3122} height={1963} style={{ position: 'absolute', left: 0, top: 0, pointerEvents: 'none' }}>
        {panels.map((p) => {
          const cx = p.left + p.width / 2;
          const cy = p.top + p.height / 2;
          return (
            <g key={p.key} fontFamily={FONT} fill="#000">
              <text x={cx} y={p.top - 15.5} fontSize={63} textAnchor="middle">{p.title}</text>
              <text x={cx} y={p.top + p.height + 79.5} fontSize={43} textAnchor="middle">{episodesLabel}</text>
              <text x={p.yLabelX} y={cy} fontSize={43} textAnchor="middle"
                transform={`rotate(-90 ${p.yLabelX} ${cy})`}>{p.yLabel}</text>
            </g>
          );
        })}
      </svg>
    </div>
  );
}
